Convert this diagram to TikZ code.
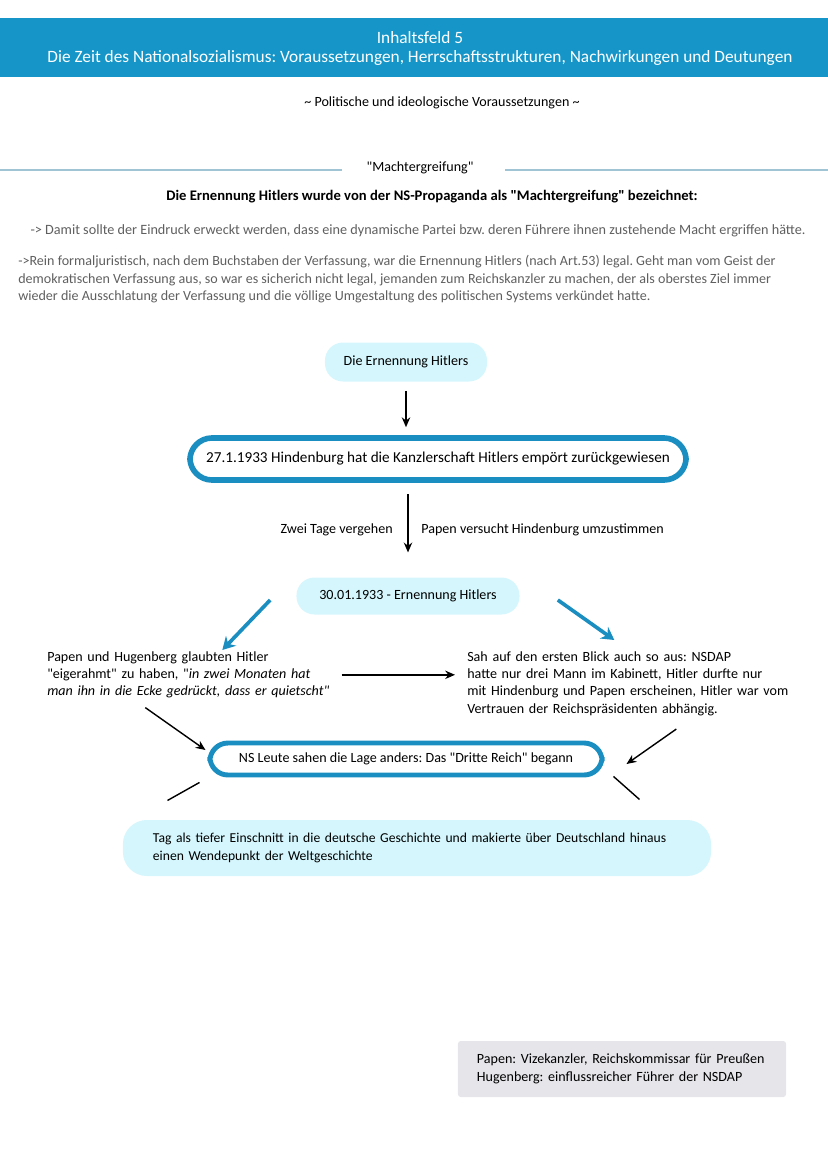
\documentclass[tikz,border=0pt]{standalone}
\usepackage{fontspec}
\setmainfont{Carlito}
\usetikzlibrary{positioning,arrows.meta,calc}

\definecolor{kopfblau}{RGB}{22,150,200}
\definecolor{rahmenblau}{RGB}{26,142,192}
\definecolor{hellblau}{RGB}{212,246,252}
\definecolor{hellgrau}{RGB}{229,229,234}
\definecolor{linienblau}{RGB}{160,196,212}
\definecolor{textgrau}{RGB}{95,95,95}

\newcommand{\schrift}{\frenchspacing\fontsize{10}{12.4}\selectfont}
\newcommand{\qq}{\textquotedbl}

\tikzset{
  pille/.style={fill=hellblau, rounded corners=0.45cm, font=\schrift},
  rahmen/.style={draw=rahmenblau, line width=4pt, rounded corners=0.55cm, fill=white, font=\schrift},
  block/.style={align=left, inner sep=0pt, anchor=north west, font=\schrift},
  pfeil/.style={-{Stealth[length=7pt,width=6pt]}, line width=1pt},
  blaupfeil/.style={-{Stealth[length=9pt,width=10pt]}, draw=rahmenblau, line width=2.6pt},
  strich/.style={line width=1pt},
  trennlinie/.style={draw=linienblau, line width=0.8pt}
}

\begin{document}
\begin{tikzpicture}[x=0.025cm, y=-0.025cm]
  \useasboundingbox (0,0) rectangle (828,1171);

  %Kopf
  \fill[kopfblau] (0,18) rectangle (828,77);
  \node[text=white, align=center, font=\frenchspacing\fontsize{12.3}{13.5}\selectfont] (titel) at (420,48)
    {Inhaltsfeld 5\\Die Zeit des Nationalsozialismus: Voraussetzungen, Herrschaftsstrukturen, Nachwirkungen und Deutungen};
  \node[font=\schrift] (unterthema) at (442,103) {\textasciitilde{} Politische und ideologische Voraussetzungen \textasciitilde};

  %Einleitung
  \node[font=\schrift] (macht) at (420,168) {\qq Machtergreifung\qq};
  \draw[trennlinie] (macht.west) ++(-20,2) -- (0,170);
  \draw[trennlinie] (macht.east) ++(27,2) -- (828,170);
  \node[font=\frenchspacing\fontsize{10.4}{12.4}\selectfont\bfseries] (frage) at (432,197)
    {Die Ernennung Hitlers wurde von der NS-Propaganda als \qq Machtergreifung\qq{} bezeichnet:};
  \node[font=\frenchspacing\fontsize{10.1}{12.4}\selectfont, text=textgrau] (eindruck) at (418,231)
    {-> Damit sollte der Eindruck erweckt werden, dass eine dynamische Partei bzw. deren Führere ihnen zustehende Macht ergriffen hätte.};
  \node[block, text=textgrau] (legal) at (18,255)
    {->Rein formaljuristisch, nach dem Buchstaben der Verfassung, war die Ernennung Hitlers (nach Art.53) legal. Geht man vom Geist der\\
     demokratischen Verfassung aus, so war es sicherich nicht legal, jemanden zum Reichskanzler zu machen, der als oberstes Ziel immer\\
     wieder die Ausschlatung der Verfassung und die völlige Umgestaltung des politischen Systems verkündet hatte.};

  %Nodes
  \node[pille, minimum width=4.05cm, minimum height=0.975cm] (ernennung) at (406,362) {Die Ernennung Hitlers};
  \node[rahmen, font=\frenchspacing\fontsize{10.8}{12.4}\selectfont, minimum width=12.4cm, minimum height=1.05cm] (hindenburg) at (438,459)
    {27.1.1933 Hindenburg hat die Kanzlerschaft Hitlers empört zurückgewiesen};
  \node[pille, minimum width=5.575cm, minimum height=0.925cm] (ernennung2) at (408,596) {30.01.1933 - Ernennung Hitlers};
  \node[block, text width=7.25cm] (links) at (47,651)
    {Papen und Hugenberg glaubten Hitler\\
     \qq eigerahmt\qq{} zu haben, \qq\textit{in zwei Monaten hat}\\
     \textit{man ihn in die Ecke gedrückt, dass er quietscht\qq}};
  \node[block, text width=8.25cm] (rechts) at (467,651)
    {Sah auf den ersten Blick auch so aus: NSDAP\\
     hatte nur drei Mann im Kabinett, Hitler durfte nur\\
     mit Hindenburg und Papen erscheinen, Hitler war vom\\
     Vertrauen der Reichspräsidenten abhängig.};
  \node[rahmen, line width=3.5pt, rounded corners=0.45cm, minimum width=9.8cm, minimum height=0.8cm] (ns) at (406,759)
    {NS Leute sahen die Lage anders: Das \qq Dritte Reich\qq{} begann};
  \node[pille, rounded corners=0.6cm, font=\frenchspacing\fontsize{9.7}{12.4}\selectfont, align=left, text width=13.2cm, inner xsep=0.75cm, minimum height=1.4cm] (wende) at (417,848)
    {Tag als tiefer Einschnitt in die deutsche Geschichte und makierte über Deutschland hinaus\\
     einen Wendepunkt der Weltgeschichte};
  \node[fill=hellgrau, rounded corners=2pt, align=left, text width=7.25cm, inner xsep=0.475cm, minimum height=1.4cm, font=\schrift] (legende) at (622,1069)
    {Papen: Vizekanzler, Reichskommissar für Preußen\\
     Hugenberg: einflussreicher Führer der NSDAP};

  %Lines
  \draw[pfeil, shorten <=0.225cm, shorten >=0.2cm] (ernennung.south) -- (ernennung.south |- hindenburg.north);
  \draw[pfeil, shorten <=0.28cm, shorten >=0.62cm] (hindenburg.south -| ernennung2.north) -- (ernennung2.north)
    node[midway, left=0.25cm, font=\schrift] {Zwei Tage vergehen}
    node[midway, right=0.2cm, font=\schrift] {Papen versucht Hindenburg umzustimmen};
  \draw[blaupfeil] ($(ernennung2.west)+(-26,4)$) -- ($(links.north)+(30,-1)$);
  \draw[blaupfeil] ($(ernennung2.east)+(38,4)$) -- ($(rechts.north)+(-18,-11)$);
  \draw[pfeil, shorten <=0.1cm, shorten >=0.3cm] (links.east) -- (links.east -| rechts.west);
  \draw[pfeil] ($(links.south)+(-47,9)$) -- ($(ns.west)+(-2,-9)$);
  \draw[pfeil] ($(rechts.south)+(44,13)$) -- ($(ns.east)+(22,5)$);
  \draw[strich] ($(ns.south west)+(-8,5)$) -- ($(ns.south west)+(-40,23)$);
  \draw[strich] ($(ns.south east)+(9,-1)$) -- ($(ns.south east)+(35,22)$);
\end{tikzpicture}
\end{document}
